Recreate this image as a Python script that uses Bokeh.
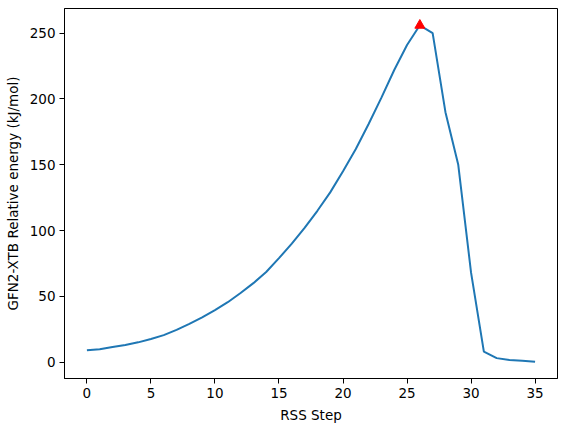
from bokeh.plotting import figure
from bokeh.models import Range1d, FixedTicker
from bokeh.embed import file_html
from bokeh.resources import INLINE

steps = list(range(36))
energy = [9, 9.8, 11.5, 13, 15, 17.5, 20.5, 24.5, 29, 34,
          39.5, 45.5, 52.5, 60, 68.5, 79, 90, 102, 115, 129,
          145, 162, 181, 201, 222, 241, 256, 250, 190, 150,
          68, 8, 3, 1.5, 1, 0.3]
ts_step = [26]
ts_energy = [256]
x_ticks = [0, 5, 10, 15, 20, 25, 30, 35]
y_ticks = [0, 50, 100, 150, 200, 250]

xmin, xmax = min(steps), max(steps)
ymin, ymax = min(energy), max(energy)
xm = (xmax - xmin) * 0.05
ym = (ymax - ymin) * 0.05

p = figure(output_backend="svg", toolbar_location=None,
           frame_width=493, frame_height=370,
           min_border_left=64, min_border_right=3,
           min_border_top=8, min_border_bottom=45,
           x_range=Range1d(xmin - xm, xmax + xm),
           y_range=Range1d(ymin - ym, ymax + ym))

p.line(steps, energy, line_color="#1f77b4", line_width=2)
p.scatter(ts_step, ts_energy, marker="triangle", size=10,
          fill_color="red", line_color="red")

p.xgrid.visible = False
p.ygrid.visible = False
p.outline_line_color = "black"
p.outline_line_width = 1
p.outline_line_alpha = 1
p.background_fill_color = "white"
p.border_fill_color = "white"

p.xaxis.ticker = FixedTicker(ticks=x_ticks)
p.yaxis.ticker = FixedTicker(ticks=y_ticks)
p.xaxis.axis_label = "RSS Step"
p.yaxis.axis_label = "GFN2-XTB Relative energy (kJ/mol)"

for ax in (p.xaxis[0], p.yaxis[0]):
    ax.axis_line_color = "black"
    ax.axis_line_width = 1
    ax.major_tick_line_color = "black"
    ax.major_tick_line_width = 1
    ax.major_tick_out = 5
    ax.major_tick_in = 0
    ax.minor_tick_line_color = None
    ax.major_label_text_font = "DejaVu Sans"
    ax.major_label_text_font_size = "13.5px"
    ax.major_label_text_color = "black"
    ax.major_label_standoff = 4
    ax.axis_label_text_font = "DejaVu Sans"
    ax.axis_label_text_font_size = "13.5px"
    ax.axis_label_text_font_style = "normal"
    ax.axis_label_text_color = "black"
    ax.axis_label_standoff = 6

open("out.html", "w").write(file_html(p, INLINE))
